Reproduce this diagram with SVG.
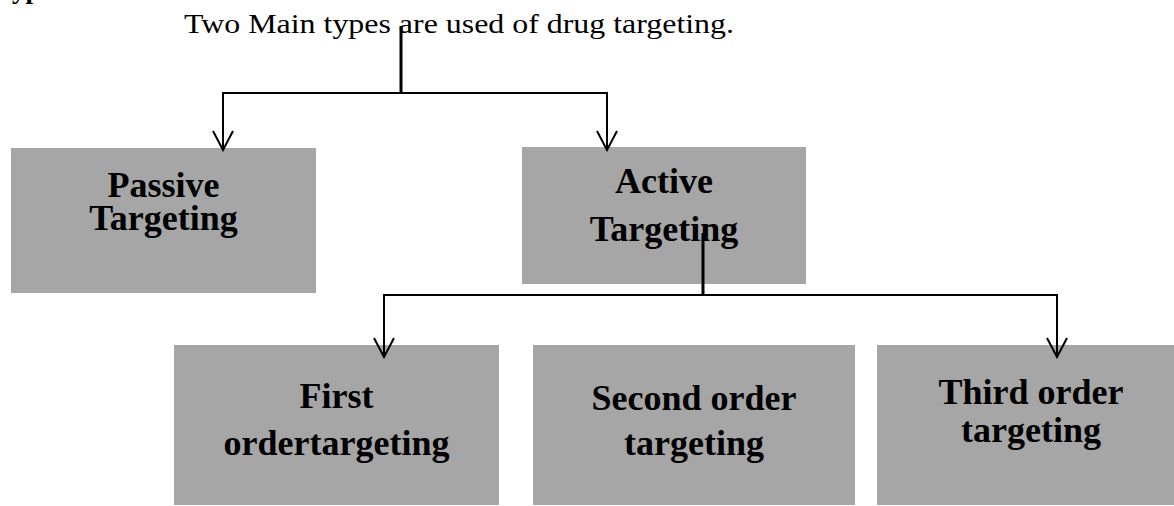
<svg xmlns="http://www.w3.org/2000/svg" width="1174" height="506" viewBox="0 0 1174 506">
  <style>
    .box { fill: #a6a6a6; }
    .label { font-family: "Liberation Serif", "Times New Roman", serif; font-weight: bold; font-size: 36px; fill: #000; text-anchor: middle; }
    .title { font-family: "Liberation Serif", "Times New Roman", serif; font-size: 27px; fill: #000; }
    .wire { fill: none; stroke: #000; stroke-width: 2; }
    .stem { fill: none; stroke: #000; stroke-width: 3; }
  </style>
  <defs>
    <marker id="open-arrow" markerUnits="userSpaceOnUse" viewBox="-1 -1 22 24" markerWidth="22" markerHeight="24" refX="19" refY="10" orient="auto">
      <path d="M0,0 L19,10 L0,20" fill="none" stroke="#000" stroke-width="2"/>
    </marker>
  </defs>

  <rect width="1174" height="506" fill="#fff"/>

  <!-- heading, clipped at the top edge -->
  <text class="title" x="-4" y="-2" font-size="24" font-weight="bold">Types</text>

  <!-- caption -->
  <text class="title" x="184" y="33" textLength="550" lengthAdjust="spacingAndGlyphs">Two Main types are used of drug targeting.</text>

  <g id="passive">
    <rect class="box" x="11" y="148" width="305" height="145"/>
    <text class="label" x="163.5" y="197" font-size="35">Passive</text>
    <text class="label" x="163.5" y="230" font-size="35">Targeting</text>
  </g>

  <g id="active">
    <rect class="box" x="522" y="147" width="284" height="137"/>
    <text class="label" x="664" y="193">Active</text>
    <text class="label" x="664" y="241">Targeting</text>
  </g>

  <g id="first-order">
    <rect class="box" x="174" y="345" width="325" height="160"/>
    <text class="label" x="336.5" y="408">First</text>
    <text class="label" x="336.5" y="455">ordertargeting</text>
  </g>

  <g id="second-order">
    <rect class="box" x="533" y="345" width="322" height="160"/>
    <text class="label" x="694" y="410">Second order</text>
    <text class="label" x="694" y="455">targeting</text>
  </g>

  <g id="third-order">
    <rect class="box" x="877" y="345" width="297" height="160"/>
    <text class="label" x="1031" y="404">Third order</text>
    <text class="label" x="1031" y="442">targeting</text>
  </g>

  <g id="connectors">
    <path class="stem" d="M401,26 V94"/>
    <path class="wire" d="M401,93 H223 V150" marker-end="url(#open-arrow)"/>
    <path class="wire" d="M401,93 H607 V150" marker-end="url(#open-arrow)"/>
    <path class="stem" d="M703,233 V296"/>
    <path class="wire" d="M703,295 H384 V357" marker-end="url(#open-arrow)"/>
    <path class="wire" d="M703,295 H1057 V357" marker-end="url(#open-arrow)"/>
  </g>
</svg>
